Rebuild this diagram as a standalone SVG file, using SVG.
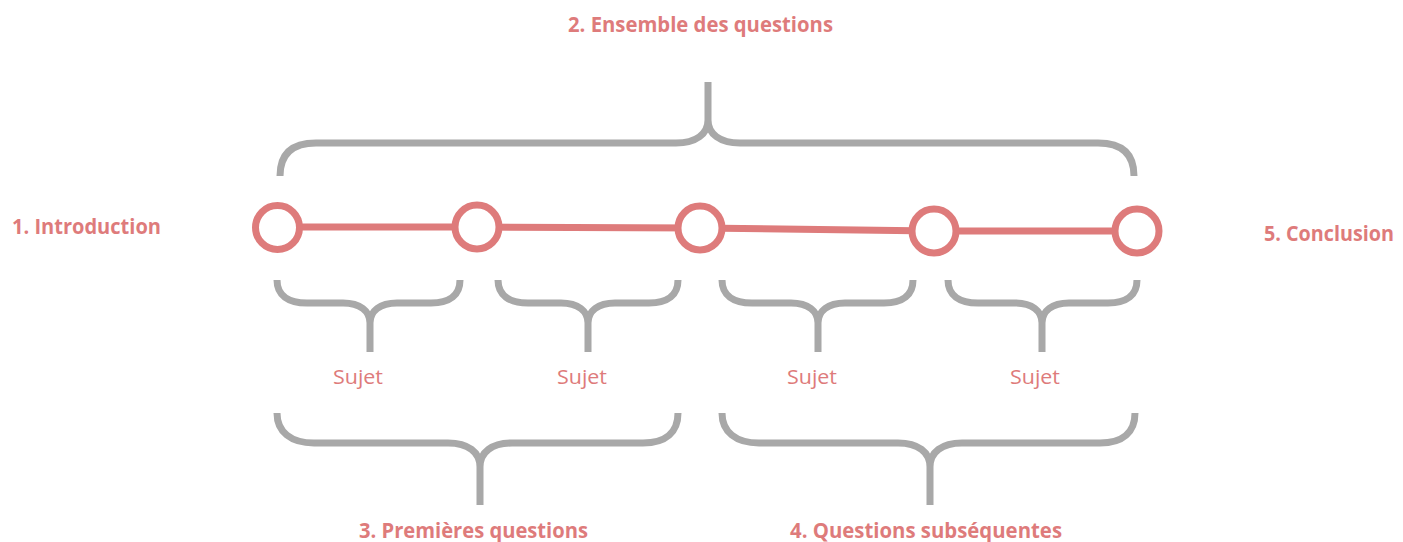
<svg xmlns="http://www.w3.org/2000/svg" width="1403" height="542" viewBox="0 0 1403 542">
<defs>
<style>
.brace{fill:none;stroke:#a8a8a8;stroke-width:7;stroke-linecap:butt}
.link{fill:none;stroke:#de7b7b;stroke-width:7}
.node{fill:#ffffff;stroke:#de7b7b;stroke-width:7}
.title{font-family:"Open Sans","Liberation Sans",sans-serif;font-weight:bold;font-size:21.5px;fill:#de7b7b}
.sub{font-family:"Open Sans","Liberation Sans",sans-serif;font-size:20.5px;fill:#de7b7b}
</style>
<clipPath id="clipRight"><rect x="0" y="0" width="1163" height="542"/></clipPath>
</defs>
<rect width="1403" height="542" fill="#ffffff"/>
<g id="connectors">
<path class="brace" d="M280,176 C280,154 292,143 316,143 L676,143 C696,143 708,134 708,120 L708,82 M708,120 C708,134 720,143 740,143 L1098,143 C1122,143 1134,154 1134,176"/>
<path class="brace" d="M277,280 C277,295 288,303 307,303 L343,303 C360,303 370,311 370,323 L370,352 M370,323 C370,311 380,303 397,303 L431,303 C450,303 460,295 460,280"/>
<path class="brace" d="M498,280 C498,295 509,303 528,303 L561,303 C578,303 588,311 588,323 L588,352 M588,323 C588,311 598,303 615,303 L649,303 C668,303 678,295 678,280"/>
<path class="brace" d="M722,280 C722,295 733,303 752,303 L791,303 C808,303 818,311 818,323 L818,352 M818,323 C818,311 828,303 845,303 L884,303 C903,303 913,295 913,280"/>
<path class="brace" d="M948,280 C948,295 959,303 978,303 L1015,303 C1032,303 1042,311 1042,323 L1042,352 M1042,323 C1042,311 1052,303 1069,303 L1108,303 C1127,303 1137,295 1137,280"/>
<path class="brace" d="M277,413 C277,432 291,443 314,443 L448,443 C468,443 480,452 480,467 L480,505 M480,467 C480,452 492,443 512,443 L643,443 C666,443 678,432 678,413"/>
<path class="brace" d="M722,413 C722,432 736,443 759,443 L898,443 C918,443 930,452 930,467 L930,505 M930,467 C930,452 942,443 962,443 L1100,443 C1123,443 1135,432 1135,413"/>
<path class="link" d="M277,227 L477,227 L700,228 L934,231 L1137,231"/>
</g>
<g id="node1"><circle class="node" cx="277.5" cy="227.5" r="22"/></g>
<g id="node2"><circle class="node" cx="477" cy="227" r="22"/></g>
<g id="node3"><circle class="node" cx="700" cy="228" r="22"/></g>
<g id="node4"><circle class="node" cx="934" cy="231" r="22"/></g>
<g id="node5" clip-path="url(#clipRight)"><circle class="node" cx="1137" cy="231" r="22"/></g>
<g id="labels">
<text class="title" x="12" y="234" textLength="149" lengthAdjust="spacingAndGlyphs">1. Introduction</text>
<text class="title" x="1264" y="241" textLength="130" lengthAdjust="spacingAndGlyphs">5. Conclusion</text>
<text class="title" x="568" y="32" textLength="265" lengthAdjust="spacingAndGlyphs">2. Ensemble des questions</text>
<text class="title" x="359" y="538" textLength="229" lengthAdjust="spacingAndGlyphs">3. Premières questions</text>
<text class="title" x="790" y="538" textLength="272" lengthAdjust="spacingAndGlyphs">4. Questions subséquentes</text>
<text class="sub" x="333" y="384" textLength="50" lengthAdjust="spacingAndGlyphs">Sujet</text>
<text class="sub" x="557" y="384" textLength="50" lengthAdjust="spacingAndGlyphs">Sujet</text>
<text class="sub" x="787" y="384" textLength="50" lengthAdjust="spacingAndGlyphs">Sujet</text>
<text class="sub" x="1010" y="384" textLength="50" lengthAdjust="spacingAndGlyphs">Sujet</text>
</g>
</svg>
